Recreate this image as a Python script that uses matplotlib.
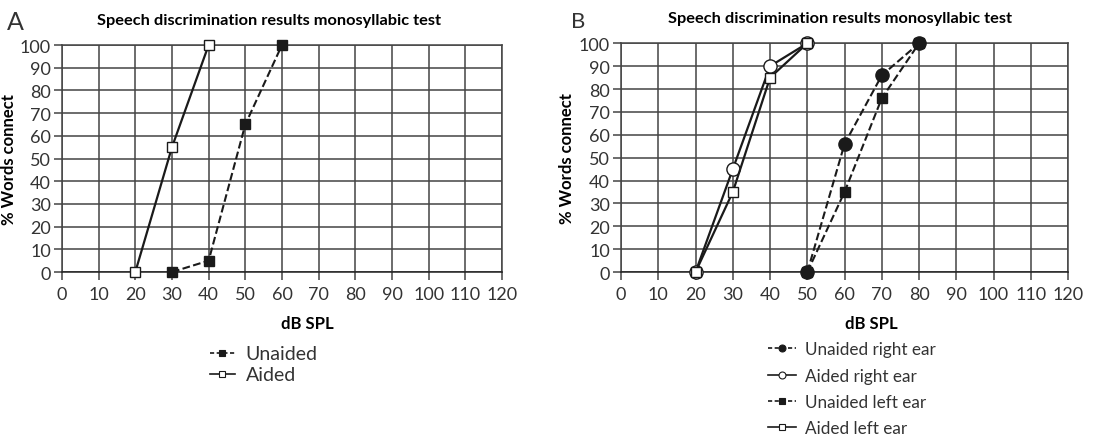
import matplotlib.pyplot as plt
from matplotlib.lines import Line2D

# Panel A data
a_unaided_x = [30, 40, 50, 60]
a_unaided_y = [0, 5, 65, 100]
a_aided_x = [20, 30, 40]
a_aided_y = [0, 55, 100]

# Panel B data
b_unaided_right_x = [50, 60, 70, 80]
b_unaided_right_y = [0, 56, 86, 100]
b_aided_right_x = [20, 30, 40, 50]
b_aided_right_y = [0, 45, 90, 100]
b_unaided_left_x = [50, 60, 70, 80]
b_unaided_left_y = [0, 35, 76, 100]
b_aided_left_x = [20, 30, 40, 50]
b_aided_left_y = [0, 35, 85, 100]

x_ticks = list(range(0, 121, 10))
y_ticks = list(range(0, 101, 10))

title = "Speech discrimination results monosyllabic test"
line_col = "#1a1a1a"
grid_col = "#444444"
text_col = "#333333"

plt.rcParams['font.family'] = ['Lato', 'DejaVu Sans']

fig = plt.figure(figsize=(11.17, 4.39), dpi=100)
ax_a = fig.add_axes([0.0555, 0.3781, 0.3939, 0.5171])
ax_b = fig.add_axes([0.556, 0.3781, 0.4002, 0.521])


def setup_axes(ax, title_x, xlabel_x, ylabel_x):
    ax.set_xlim(0, 120)
    ax.set_ylim(0, 100)
    ax.set_xticks(x_ticks)
    ax.set_yticks(y_ticks)
    ax.grid(True, color=grid_col, linewidth=1.1)
    for s in ax.spines.values():
        s.set_color(grid_col)
        s.set_linewidth(1.1)
    ax.spines['bottom'].set_color("#222222")
    ax.tick_params(length=6, width=1.1, color=grid_col, labelsize=13,
                   labelcolor=text_col)
    ax.tick_params(axis='y', pad=2)
    ax.tick_params(axis='x', pad=4)
    ax.set_xlabel("dB SPL", fontsize=12, fontweight='bold')
    ax.xaxis.set_label_coords(xlabel_x, -0.19)
    ax.set_ylabel("% Words connect", fontsize=12, fontweight='bold')
    ax.yaxis.set_label_coords(ylabel_x, 0.5)
    ax.text(title_x, 1.11, title, transform=ax.transAxes, fontsize=11.8,
            fontweight='bold', ha='center', va='center')
    ax.set_axisbelow(True)


setup_axes(ax_a, 0.47, 0.557, -0.102)
setup_axes(ax_b, 0.49, 0.561, -0.103)

# Panel A
ax_a.plot(a_unaided_x, a_unaided_y, ls='--', color=line_col, lw=1.5, marker='s', ms=7.5,
          mfc=line_col, mec=line_col, clip_on=False, zorder=3)
ax_a.plot(a_aided_x, a_aided_y, ls='-', color=line_col, lw=1.6, marker='s', ms=7.5,
          mfc='white', mec=line_col, mew=1.0, clip_on=False, zorder=3)

# Panel B
ax_b.plot(b_unaided_right_x, b_unaided_right_y, ls='--', color=line_col, lw=1.5, marker='o',
          ms=9.5, mfc=line_col, mec=line_col, clip_on=False, zorder=3)
ax_b.plot(b_aided_right_x, b_aided_right_y, ls='-', color=line_col, lw=1.6, marker='o',
          ms=9.5, mfc='white', mec=line_col, mew=1.0, clip_on=False, zorder=3)
ax_b.plot(b_unaided_left_x, b_unaided_left_y, ls='--', color=line_col, lw=1.5, marker='s',
          ms=7.5, mfc=line_col, mec=line_col, clip_on=False, zorder=3)
ax_b.plot(b_aided_left_x, b_aided_left_y, ls='-', color=line_col, lw=1.6, marker='s',
          ms=7.5, mfc='white', mec=line_col, mew=1.0, clip_on=False, zorder=3)

fig.text(7 / 1117, 1 - 23 / 439, "A", fontsize=18, color=text_col, va='center')
fig.text(571 / 1117, 1 - 22 / 439, "B", fontsize=16, color=text_col, va='center')


def handle(ls, marker, mfc, ms):
    return Line2D([0], [0], ls=ls, color=line_col, lw=1.2, marker=marker, ms=ms,
                  mfc=mfc, mec=line_col, mew=0.8, dashes=(2.5, 1.5) if ls == '--' else (None, None))


leg_a = fig.legend([handle('--', 's', line_col, 5), handle('-', 's', 'white', 5)],
                   ["Unaided", "Aided"], loc='upper left',
                   bbox_to_anchor=(192 / 1117, 1 - 329 / 439), frameon=False,
                   handlelength=1.3, handletextpad=0.55, labelspacing=0.2,
                   labelcolor=text_col, prop={'size': 14})
leg_b = fig.legend([handle('--', 'o', line_col, 5), handle('-', 'o', 'white', 5),
                    handle('--', 's', line_col, 5), handle('-', 's', 'white', 5)],
                   ["Unaided right ear", "Aided right ear", "Unaided left ear", "Aided left ear"],
                   loc='upper left', bbox_to_anchor=(753 / 1117, 1 - 327 / 439), frameon=False,
                   handlelength=1.6, handletextpad=0.55, labelspacing=0.6,
                   labelcolor=text_col, prop={'size': 12.3})

fig.savefig("out.png", dpi=100)
